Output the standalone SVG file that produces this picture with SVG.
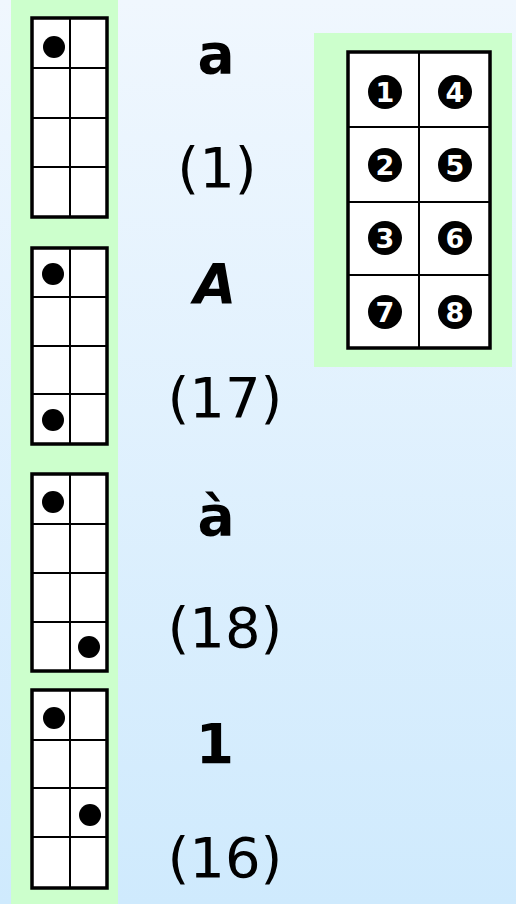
<svg xmlns="http://www.w3.org/2000/svg" width="516" height="904" viewBox="0 0 516 904">
<defs>
<linearGradient id="bg" x1="0" y1="0" x2="0" y2="1">
<stop offset="0" stop-color="#f0f7fe"/>
<stop offset="1" stop-color="#cfeafd"/>
</linearGradient>
</defs>
<style>
.green{fill:#ccffcc}
.outer{fill:#ffffff;stroke:#000;stroke-width:3.5}
.inner{stroke:#000;stroke-width:2;fill:none}
.dot{fill:#000}
.lbl{font-family:"DejaVu Sans","Liberation Sans",sans-serif;font-weight:bold;font-size:55px;fill:#000;text-anchor:middle}
.num{font-family:"DejaVu Sans","Liberation Sans",sans-serif;font-size:56px;fill:#000;text-anchor:middle}
.dig{font-family:"DejaVu Sans","Liberation Sans",sans-serif;font-weight:bold;font-size:27px;fill:#fff;text-anchor:middle}
</style>
<rect width="516" height="904" fill="url(#bg)"/>
<rect class="green" x="11" y="0" width="107" height="904"/>
<rect class="green" x="314" y="33" width="198" height="334"/>

<g id="cell-a">
<rect class="outer" x="32" y="18" width="75" height="199"/>
<path class="inner" d="M70 18V217M32 68H107M32 118H107M32 167H107"/>
<circle class="dot" cx="54" cy="47" r="11"/>
</g>
<g id="cell-A">
<rect class="outer" x="32" y="248" width="75" height="196"/>
<path class="inner" d="M70 248V444M32 297H107M32 346H107M32 394H107"/>
<circle class="dot" cx="53" cy="274" r="11"/>
<circle class="dot" cx="53" cy="420" r="11"/>
</g>
<g id="cell-agrave">
<rect class="outer" x="32" y="474" width="75" height="197"/>
<path class="inner" d="M70 474V671M32 524H107M32 573H107M32 622H107"/>
<circle class="dot" cx="53" cy="502" r="11"/>
<circle class="dot" cx="89" cy="647" r="11"/>
</g>
<g id="cell-1">
<rect class="outer" x="32" y="690" width="75" height="198"/>
<path class="inner" d="M70 690V888M32 740H107M32 788H107M32 837H107"/>
<circle class="dot" cx="54" cy="718" r="11"/>
<circle class="dot" cx="90" cy="815" r="11"/>
</g>

<g id="labels">
<text class="lbl" x="216" y="73">a</text>
<text class="num" x="217" y="187">(1)</text>
<text class="lbl" x="215" y="303" font-style="italic">A</text>
<text class="num" x="225" y="417">(17)</text>
<text class="lbl" x="216" y="535">à</text>
<text class="num" x="225" y="647">(18)</text>
<text class="lbl" x="215" y="763">1</text>
<text class="num" x="225" y="877">(16)</text>
</g>

<g id="key">
<rect class="outer" x="348" y="52" width="142" height="296"/>
<path class="inner" d="M419 52V348M348 127H490M348 202H490M348 275H490"/>
<circle class="dot" cx="385" cy="92" r="17"/><text class="dig" x="385" y="101.5">1</text>
<circle class="dot" cx="385" cy="165" r="17"/><text class="dig" x="385" y="174.5">2</text>
<circle class="dot" cx="385" cy="238" r="17"/><text class="dig" x="385" y="247.5">3</text>
<circle class="dot" cx="385" cy="312" r="17"/><text class="dig" x="385" y="321.5">7</text>
<circle class="dot" cx="455" cy="92" r="17"/><text class="dig" x="455" y="101.5">4</text>
<circle class="dot" cx="455" cy="165" r="17"/><text class="dig" x="455" y="174.5">5</text>
<circle class="dot" cx="455" cy="238" r="17"/><text class="dig" x="455" y="247.5">6</text>
<circle class="dot" cx="455" cy="312" r="17"/><text class="dig" x="455" y="321.5">8</text>
</g>
</svg>
